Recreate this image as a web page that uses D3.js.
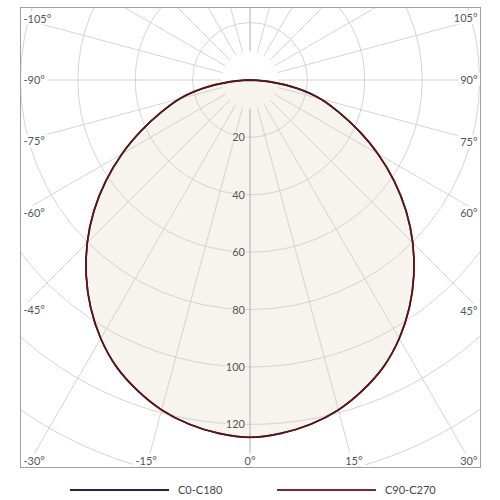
<!DOCTYPE html>
<html><head><meta charset="utf-8">
<script src="https://cdn.jsdelivr.net/npm/d3@7"></script>
<style>body{margin:0;background:#fff}svg{display:block}text{font-family:Lato,"Open Sans",sans-serif}</style>
</head><body><svg id="c" width="500" height="500"></svg>
<script>
// Data
const gammaAngles = [-90,-85,-80,-75,-70,-65,-60,-55,-50,-45,-40,-35,-30,-25,-20,-15,-10,-5,0,5,10,15,20,25,30,35,40,45,50,55,60,65,70,75,80,85,90];
const halfC0 = [0,7,16.5,25.5,33,41.8,51.5,61.3,71,80.2,88.8,96.8,104,110.2,115,119,121.8,123.6,124.5];
const valuesC0C180 = halfC0.concat(halfC0.slice(0,-1).reverse());
const valuesC90C270 = valuesC0C180.slice();
const seriesNames = ["C0-C180","C90-C270"];
const seriesColors = ["#1b2063","#7b2a2a"];
const radialTicks = [20,40,60,80,100,120,140,160,180];
const radialLabels = [20,40,60,80,100,120];
const angleTicks = d3.range(-180,180,15);
const angleLabels = [-105,-90,-75,-60,-45,-30,-15,0,15,30,45,60,75,90,105];

const svg = d3.select("#c");
const box = {x0:20.5,y0:7.5,x1:480.5,y1:467.5};
const cx = 250, cy = 80;
const r = d3.scaleLinear().domain([0,100]).range([0,287]);
const pt = (deg, v) => { const a = deg*Math.PI/180; return [cx + r(v)*Math.sin(a), cy + r(v)*Math.cos(a)]; };

svg.append("defs").append("clipPath").attr("id","clip")
  .append("rect").attr("x",box.x0).attr("y",box.y0).attr("width",box.x1-box.x0).attr("height",box.y1-box.y0);
const g = svg.append("g").attr("clip-path","url(#clip)");

// fill
const lineGen = d3.line().x(d=>pt(d[0],d[1])[0]).y(d=>pt(d[0],d[1])[1]).curve(d3.curveCatmullRom.alpha(0.5));
const d1 = gammaAngles.map((a,i)=>[a,valuesC0C180[i]]);
const d2 = gammaAngles.map((a,i)=>[a,valuesC90C270[i]]);
g.append("path").attr("d",lineGen(d2)+"Z").attr("fill","#f7f3ee").attr("stroke","none");

// grid circles
g.selectAll("circle.grid").data(radialTicks).join("circle")
  .attr("cx",cx).attr("cy",cy).attr("r",d=>r(d))
  .attr("fill","none").attr("stroke","#cfcfcf").attr("stroke-width",0.9);
// radial lines
const rin = 10, rout = 250;
g.selectAll("line.ray").data(angleTicks).join("line")
  .attr("x1",d=>pt(d,rin)[0]).attr("y1",d=>pt(d,rin)[1])
  .attr("x2",d=>pt(d,rout)[0]).attr("y2",d=>pt(d,rout)[1])
  .attr("stroke",d=>(d===0||d===-180)?"#a8a8a8":"#cfcfcf").attr("stroke-width",0.9);

// curves
g.append("path").attr("d",lineGen(d1)).attr("fill","none").attr("stroke",seriesColors[0]).attr("stroke-width",1.6);
g.append("path").attr("d",lineGen(d2)).attr("fill","none").attr("stroke","#5e1414").attr("stroke-width",1.8);

// radial labels
radialLabels.forEach(v=>{
  g.append("text").attr("x",245).attr("y",cy+r(v)+4).attr("text-anchor","end")
    .attr("font-size",11).attr("fill","#555")
    .attr("stroke","#f7f3ee").attr("stroke-width",3).attr("paint-order","stroke").text(v);
});

// angle labels
const lg = svg.append("g");
angleLabels.forEach(a=>{
  const rad = a*Math.PI/180, dx = Math.sin(rad), dy = Math.cos(rad);
  let x, y, anchor;
  const tb = dy>0 ? (box.y1-cy)/dy : Infinity;
  const ts = dx!==0 ? (dx<0 ? (cx-box.x0)/-dx : (box.x1-cx)/dx) : Infinity;
  if (tb < ts && Math.abs(a) < 25) { x = cx + tb*dx; y = box.y1-7; anchor = "middle"; }
  else if (tb < ts) { y = box.y1-7; x = dx<0 ? box.x0+3 : box.x1-3; anchor = dx<0?"start":"end"; }
  else { y = Math.max(cy + ts*dy, 16); x = dx<0 ? box.x0+3 : box.x1-3; anchor = dx<0?"start":"end"; }
  const lab = lg.append("g");
  const t = lab.append("text").attr("x",x).attr("y",y+4).attr("text-anchor",anchor)
    .attr("font-size",11).attr("fill","#555").text(a+"°");
  const bb = t.node().getBBox();
  lab.insert("rect","text").attr("x",bb.x-2).attr("y",bb.y).attr("width",bb.width+4).attr("height",bb.height).attr("fill","#fff");
});

// border
svg.append("rect").attr("x",box.x0).attr("y",box.y0).attr("width",box.x1-box.x0).attr("height",box.y1-box.y0)
  .attr("fill","none").attr("stroke","#a0a0a0").attr("stroke-width",1);

// legend
const legX = [70,277];
seriesNames.forEach((n,i)=>{
  svg.append("line").attr("x1",legX[i]).attr("x2",legX[i]+99).attr("y1",490).attr("y2",490)
    .attr("stroke",seriesColors[i]).attr("stroke-width",2);
  svg.append("text").attr("x",legX[i]+108).attr("y",494).attr("font-size",11).attr("fill","#444").text(n);
});
</script></body></html>
